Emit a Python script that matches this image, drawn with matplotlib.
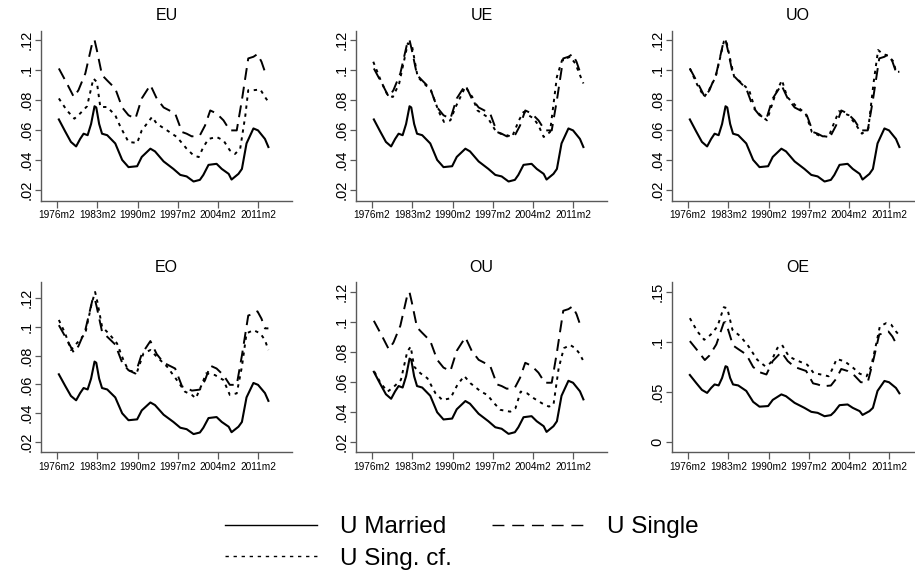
import matplotlib
matplotlib.use("Agg")
import matplotlib.pyplot as plt
from matplotlib.lines import Line2D

plt.rcParams['font.family'] = ['Liberation Sans', 'DejaVu Sans']
plt.rcParams['lines.scale_dashes'] = False

# values (fractional years, rates)
married_t = [1976.4, 1977.5, 1978.5, 1979.4, 1980.1, 1980.7, 1981.4, 1982.0, 1982.6, 1982.9,
             1983.4, 1983.9, 1984.8, 1986.2, 1987.4, 1988.5, 1990.0, 1990.8, 1992.3, 1993.1,
             1994.6, 1996.3, 1997.5, 1998.6, 1999.8, 2000.9, 2001.5, 2002.4, 2003.8, 2004.7,
             2005.9, 2006.4, 2007.6, 2008.2, 2009.0, 2010.2, 2011.0, 2012.2, 2012.8]
married_v = [.067, .059, .052, .049, .054, .0575, .0565, .064, .0758, .075,
             .064, .0575, .0565, .051, .040, .0352, .0358, .042, .0475, .0457,
             .039, .034, .030, .029, .0256, .0267, .030, .0367, .0374, .034,
             .0307, .0269, .0307, .034, .051, .061, .0597, .054, .0486]

single_t = [1976.4, 1977.8, 1979.0, 1979.8, 1981.0, 1982.3, 1982.6, 1983.0, 1983.9, 1984.8,
            1986.2, 1987.4, 1988.5, 1989.7, 1990.8, 1992.3, 1993.4, 1994.6, 1996.6, 1997.8,
            1998.6, 1999.5, 2000.9, 2001.8, 2002.7, 2003.8, 2005.0, 2006.1, 2007.3, 2008.2,
            2009.3, 2010.2, 2010.9, 2011.6, 2012.2, 2012.8]
single_v = [.101, .091, .082, .0865, .0977, .1196, .120, .1133, .0966, .093,
            .0876, .075, .0698, .0675, .081, .090, .081, .075, .071, .0586,
            .0575, .0557, .0564, .063, .073, .071, .0664, .0597, .0597, .080,
            .1077, .1088, .1106, .1055, .0988, .0988]

# counterfactual single rate, one per flow
eu_t = [1976.4, 1977.8, 1979.1, 1980.1, 1981.3, 1982.4, 1983.0, 1983.6, 1984.8, 1986.2,
        1987.1, 1988.5, 1990.0, 1990.8, 1992.6, 1993.4, 1995.2, 1996.9, 1998.6, 1999.8,
        2000.7, 2001.5, 2002.4, 2003.8, 2005.0, 2006.1, 2007.0, 2007.9, 2008.8, 2009.3,
        2010.2, 2011.4, 2012.2, 2012.8]
eu_v = [.081, .073, .0675, .071, .0758, .0943, .092, .0753, .0753, .0698,
        .062, .052, .0513, .0597, .0687, .0642, .0597, .0553, .0475, .043,
        .0419, .0486, .054, .0553, .053, .0464, .044, .0475, .0698, .0865,
        .0865, .087, .082, .0787]

ue_t = [1976.3, 1977.6, 1978.8, 1979.7, 1980.8, 1982.3, 1983.0, 1984.0, 1985.1, 1986.3,
        1987.7, 1988.6, 1989.7, 1990.6, 1992.3, 1993.5, 1994.4, 1996.1, 1997.5, 1998.4,
        1999.6, 2000.4, 2001.6, 2002.4, 2004.2, 2005.0, 2005.9, 2007.0, 2008.2, 2009.1,
        2010.5, 2011.4, 2012.2, 2012.8]
ue_v = [.1055, .093, .083, .082, .091, .1178, .1167, .0955, .091, .0866,
        .072, .0653, .0664, .0753, .0888, .082, .073, .0687, .0597, .0575,
        .0564, .0553, .0664, .072, .0675, .063, .0553, .0586, .0955, .1066,
        .1088, .1043, .0966, .091]

uo_t = [1976.4, 1977.7, 1978.9, 1979.7, 1980.9, 1982.3, 1982.7, 1983.5, 1984.1, 1985.2,
        1986.7, 1987.8, 1989.0, 1989.8, 1991.3, 1992.4, 1993.3, 1994.7, 1996.5, 1997.6,
        1998.8, 2000.5, 2001.4, 2002.3, 2004.0, 2005.1, 2006.3, 2007.4, 2008.3, 2009.1,
        2009.8, 2010.9, 2011.8, 2012.2, 2012.8]
uo_v = [.101, .090, .082, .0865, .0955, .1189, .120, .1055, .0955, .092,
        .0865, .073, .0687, .0664, .0843, .0932, .082, .0765, .071, .0586,
        .0564, .0553, .0642, .0725, .0698, .0642, .0575, .0608, .091, .1133,
        .111, .1093, .1055, .0988, .0988]

eo_t = [1976.4, 1977.5, 1978.5, 1979.5, 1981.0, 1982.1, 1982.7, 1983.1, 1983.9, 1985.3,
        1986.5, 1987.6, 1988.5, 1990.0, 1991.1, 1992.3, 1993.4, 1995.2, 1996.9, 1998.3,
        1999.5, 2000.2, 2001.2, 2002.0, 2003.5, 2005.0, 2006.1, 2007.3, 2008.2, 2009.0,
        2010.2, 2011.4, 2012.2, 2012.8]
eo_v = [.1046, .0953, .0838, .0884, .0953, .116, .124, .117, .100, .0942,
        .0884, .077, .0695, .0688, .0815, .0838, .0792, .0723, .063, .055,
        .0527, .0504, .0596, .0677, .0665, .063, .0527, .0538, .0723, .0953,
        .0976, .0953, .0907, .0838]

ou_t = [1976.5, 1977.6, 1978.8, 1979.9, 1981.1, 1982.2, 1982.8, 1983.4, 1984.5, 1985.7,
        1987.1, 1988.3, 1989.7, 1990.9, 1992.1, 1993.2, 1995.0, 1996.1, 1997.3, 1998.4,
        2000.1, 2001.0, 2001.9, 2003.0, 2004.2, 2005.6, 2006.8, 2007.6, 2008.5, 2009.4,
        2010.5, 2011.4, 2012.1, 2012.7]
ou_v = [.067, .0593, .0538, .0571, .0616, .0804, .0838, .0704, .066, .0627,
        .0527, .0482, .0493, .0582, .0642, .0593, .0538, .0516, .046, .0416,
        .0404, .0427, .0538, .0527, .0493, .046, .0438, .0449, .0693, .0827,
        .0849, .0827, .0793, .0749]

oe_t = [1976.4, 1977.7, 1978.9, 1980.0, 1981.2, 1982.3, 1982.9, 1983.8, 1985.2, 1986.6,
        1988.1, 1989.5, 1990.4, 1991.6, 1992.4, 1993.6, 1994.7, 1996.8, 1997.9, 1999.3,
        2000.5, 2001.1, 2001.9, 2003.3, 2004.8, 2005.9, 2007.1, 2007.9, 2008.8, 2009.4,
        2010.5, 2011.4, 2012.2, 2012.7]
oe_v = [.124, .1107, .1023, .1073, .1157, .135, .134, .1123, .1057, .0957,
        .0823, .0757, .079, .094, .0973, .0857, .0823, .0773, .069, .0673,
        .0657, .0723, .083, .0807, .074, .0683, .0657, .0757, .099, .1157,
        .119, .1173, .1107, .1073]

titles = ['EU', 'UE', 'UO', 'EO', 'OU', 'OE']
cf_t = [eu_t, ue_t, uo_t, eo_t, ou_t, oe_t]
cf_v = [eu_v, ue_v, uo_v, eo_v, ou_v, oe_v]

xtick_pos = [1976.08, 1983.08, 1990.08, 1997.08, 2004.08, 2011.08]
xtick_lab = ['1976m2', '1983m2', '1990m2', '1997m2', '2004m2', '2011m2']
ytick_a = [.02, .04, .06, .08, .1, .12]
ytick_a_lab = ['.02', '.04', '.06', '.08', '.1', '.12']
ytick_b = [0, .05, .1, .15]
ytick_b_lab = ['0', '.05', '.1', '.15']
ylims = [(0.0128, 0.1262), (0.0128, 0.1262), (0.0128, 0.1262),
         (0.0132, 0.1309), (0.0135, 0.1269), (-0.0103, 0.1603)]

W, H = 915, 576
fig = plt.figure(figsize=(W / 100, H / 100), dpi=100)

lefts = [41, 356, 672]
tops = [30.7, 282]
aw, ah = 251, 170

dash_single = (0, (8.6, 5.0))
dash_cf = (0, (2.4, 3.4))
axcol = '0.35'

for i, name in enumerate(titles):
    r, c = divmod(i, 3)
    ax = fig.add_axes([lefts[c] / W, 1 - (tops[r] + ah) / H, aw / W, ah / H])
    ax.plot(married_t, married_v, color='black', lw=1.5, ls='-')
    ax.plot(single_t, single_v, color='black', lw=1.4, ls=dash_single)
    ax.plot(cf_t[i], cf_v[i], color='black', lw=1.4, ls=dash_cf)
    ax.set_xlim(1973.3, 2016.9)
    ax.set_ylim(*ylims[i])
    ax.set_xticks(xtick_pos)
    ax.set_xticklabels(xtick_lab, fontsize=7.3)
    if name == 'OE':
        ax.set_yticks(ytick_b)
        ax.set_yticklabels(ytick_b_lab, fontsize=10.5, rotation=90, va='center')
    else:
        ax.set_yticks(ytick_a)
        ax.set_yticklabels(ytick_a_lab, fontsize=10.5, rotation=90, va='center')
    ax.spines['top'].set_visible(False)
    ax.spines['right'].set_visible(False)
    for s in ['left', 'bottom']:
        ax.spines[s].set_color(axcol)
        ax.spines[s].set_linewidth(1.0)
    ax.tick_params(axis='x', length=5, width=0.9, color=axcol, pad=2)
    ax.tick_params(axis='y', length=4.5, width=0.9, color=axcol, pad=1)
    ax.set_title(name, fontsize=11.5, pad=7.5)
    ax.set_facecolor('white')

handles = [Line2D([], [], color='black', lw=1.0, ls='-'),
           Line2D([], [], color='black', lw=1.0, ls=dash_cf),
           Line2D([], [], color='black', lw=1.0, ls=(0, (8.6, 5.6)))]
labels = ['U Married', 'U Sing. cf.', 'U Single']
fig.legend(handles, labels, loc='upper left', bbox_to_anchor=(225 / W, 1 - 516 / H),
           ncol=2, frameon=False, fontsize=17.5, handlelength=3.8, handletextpad=0.95,
           columnspacing=1.62, labelspacing=0.4, borderpad=0, borderaxespad=0)

fig.savefig('out.png', dpi=100, facecolor='white')
